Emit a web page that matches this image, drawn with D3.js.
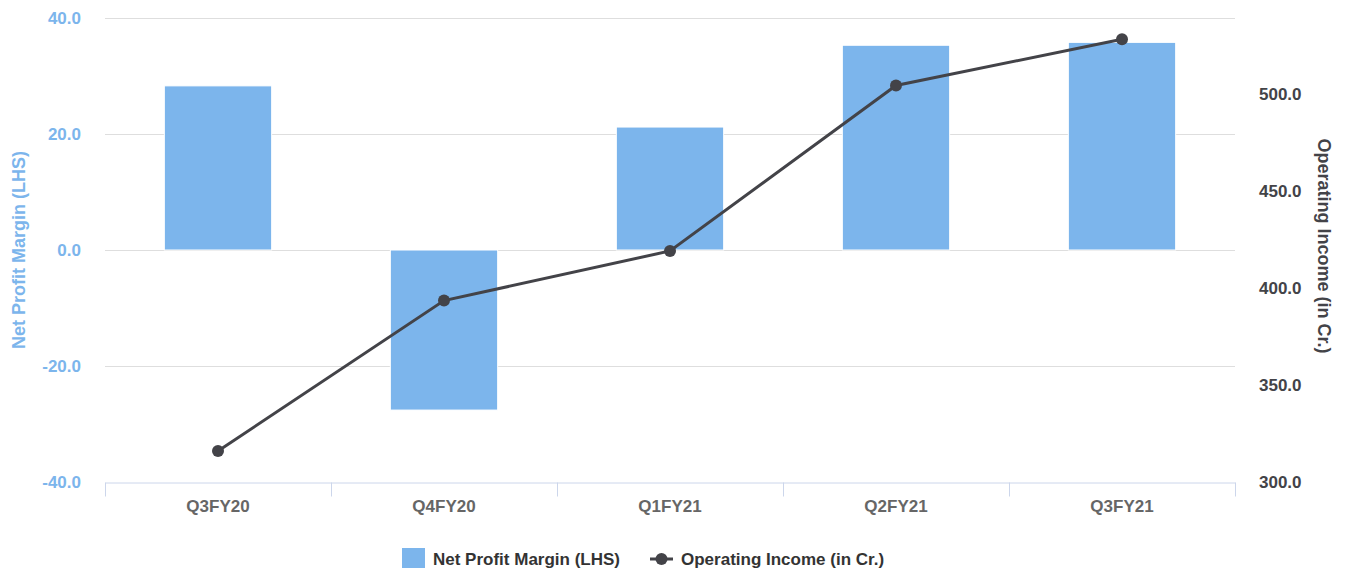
<!DOCTYPE html>
<html lang="en">
<head>
<meta charset="utf-8">
<title>Net Profit Margin vs Operating Income</title>
<script src="https://cdn.jsdelivr.net/npm/d3@7"></script>
<style>
    body { margin: 0; background: #fff; }
    text { font-family: "Liberation Sans", Arial, Helvetica, sans-serif; font-weight: bold; }
    .grid line { stroke: #dedede; stroke-width: 1; }
</style>
</head>
<body>
<script>
var w = 1345;
var h = 572;

// data
var quarters = ["Q3FY20", "Q4FY20", "Q1FY21", "Q2FY21", "Q3FY21"];
var netProfitMargin = [28.3, -27.6, 21.2, 35.3, 35.8];
var operatingIncome = [316.0, 393.6, 419.2, 504.6, 528.4];
var leftTicks = [-40, -20, 0, 20, 40];
var rightTicks = [300, 350, 400, 450, 500];

// plot area (window.top is reserved, so no "top" here)
var plotLeft = 105, plotRight = 1235, plotTop = 18, plotBottom = 482;

// plain hyphen for negatives, one decimal
var fmt = function(d){ return d.toFixed(1); };

var svg = d3.select("body").append("svg")
    .attr("width", w)
    .attr("height", h);

var xScale = d3.scaleBand().domain(quarters).range([plotLeft, plotRight]);
var yLeft = d3.scaleLinear().domain([-40, 40]).range([plotBottom, plotTop]);
var yRight = d3.scaleLinear().domain([300, 539.4]).range([plotBottom, plotTop]);

// grid lines from the left axis
svg.append("g").attr("class", "grid")
    .selectAll("line")
    .data(leftTicks.filter(function(d){ return d > -40; }))
    .enter().append("line")
    .attr("x1", plotLeft).attr("x2", plotRight)
    .attr("y1", function(d){ return yLeft(d) + 0.5; })
    .attr("y2", function(d){ return yLeft(d) + 0.5; });

// bars
var barW = xScale.bandwidth() * 0.475;
svg.append("g").selectAll("rect")
    .data(netProfitMargin)
    .enter().append("rect")
    .attr("x", function(d, i){ return xScale(quarters[i]) + (xScale.bandwidth() - barW) / 2; })
    .attr("y", function(d){ return yLeft(Math.max(0, d)); })
    .attr("width", barW)
    .attr("height", function(d){ return Math.abs(yLeft(d) - yLeft(0)); })
    .attr("fill", "#7cb5ec")
    .attr("stroke", "#fff")
    .attr("stroke-width", 1);

// x axis
var xAxis = d3.axisBottom(xScale).tickSize(0).tickPadding(17);
var gx = svg.append("g")
    .attr("transform", "translate(0," + (plotBottom + 0.5) + ")")
    .call(xAxis);
gx.select(".domain").attr("stroke", "#ccd6eb");
gx.selectAll(".tick text")
    .attr("fill", "#666666")
    .style("font-size", "17px");
// category boundary ticks
gx.selectAll(".bound")
    .data(d3.range(quarters.length + 1))
    .enter().append("line")
    .attr("class", "bound")
    .attr("x1", function(i){ return plotLeft + i * xScale.step() + 0.5; })
    .attr("x2", function(i){ return plotLeft + i * xScale.step() + 0.5; })
    .attr("y1", 0).attr("y2", 14)
    .attr("stroke", "#ccd6eb");

// left axis
var gl = svg.append("g")
    .attr("transform", "translate(" + (plotLeft - 24) + ",0)")
    .call(d3.axisLeft(yLeft).tickValues(leftTicks).tickSize(0).tickFormat(fmt));
gl.select(".domain").remove();
gl.selectAll(".tick text")
    .attr("fill", "#7cb5ec")
    .attr("x", 0)
    .style("font-size", "17px");

// right axis
var gr = svg.append("g")
    .attr("transform", "translate(" + (plotRight + 24) + ",0)")
    .call(d3.axisRight(yRight).tickValues(rightTicks).tickSize(0).tickFormat(fmt));
gr.select(".domain").remove();
gr.selectAll(".tick text")
    .attr("fill", "#434348")
    .attr("x", 0)
    .style("font-size", "17px");

// axis titles
svg.append("text")
    .attr("transform", "translate(25," + (plotTop + plotBottom) / 2 + ") rotate(-90)")
    .attr("text-anchor", "middle")
    .attr("fill", "#7cb5ec")
    .style("font-size", "18px")
    .text("Net Profit Margin (LHS)");

svg.append("text")
    .attr("transform", "translate(1318," + ((plotTop + plotBottom) / 2 - 4) + ") rotate(90)")
    .attr("text-anchor", "middle")
    .attr("fill", "#434348")
    .style("font-size", "18px")
    .text("Operating Income (in Cr.)");

// line
var line = d3.line()
    .x(function(d, i){ return xScale(quarters[i]) + xScale.bandwidth() / 2; })
    .y(function(d){ return yRight(d); });

svg.append("path")
    .datum(operatingIncome)
    .attr("d", line)
    .attr("fill", "none")
    .attr("stroke", "#434348")
    .attr("stroke-width", 3);

svg.append("g").selectAll("circle")
    .data(operatingIncome)
    .enter().append("circle")
    .attr("cx", function(d, i){ return xScale(quarters[i]) + xScale.bandwidth() / 2; })
    .attr("cy", function(d){ return yRight(d); })
    .attr("r", 6)
    .attr("fill", "#434348");

// legend
var legend = svg.append("g").attr("transform", "translate(0,558)");
legend.append("rect")
    .attr("x", 402).attr("y", -10)
    .attr("width", 23).attr("height", 20)
    .attr("fill", "#7cb5ec");
legend.append("text")
    .attr("x", 433).attr("y", 7)
    .attr("fill", "#333333")
    .style("font-size", "17px")
    .text("Net Profit Margin (LHS)");
legend.append("line")
    .attr("x1", 650).attr("x2", 673)
    .attr("y1", 1).attr("y2", 1)
    .attr("stroke", "#434348").attr("stroke-width", 3);
legend.append("circle")
    .attr("cx", 661.5).attr("cy", 1).attr("r", 6)
    .attr("fill", "#434348");
legend.append("text")
    .attr("x", 681).attr("y", 7)
    .attr("fill", "#333333")
    .style("font-size", "17px")
    .text("Operating Income (in Cr.)");
</script>
</body>
</html>
